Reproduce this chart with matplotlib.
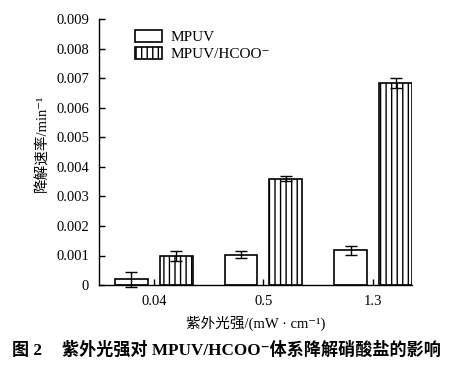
import numpy as np
import matplotlib
matplotlib.use("Agg")
import matplotlib.pyplot as plt

plt.rcParams['font.family'] = ['Liberation Serif', 'Noto Sans CJK SC', 'DejaVu Sans']
plt.rcParams['hatch.linewidth'] = 1.0
plt.rcParams['axes.unicode_minus'] = False

# data
intensity = ['0.04', '0.5', '1.3']
mpuv = [0.00019, 0.00103, 0.00117]
mpuv_err = [0.00025, 0.00012, 0.00015]
hcoo = [0.00098, 0.0036, 0.00684]
hcoo_err = [0.00016, 0.00008, 0.00018]
yticks = [0, 0.001, 0.002, 0.003, 0.004, 0.005, 0.006, 0.007, 0.008, 0.009]
ytick_labels = ['0', '0.001', '0.002', '0.003', '0.004', '0.005', '0.006', '0.007', '0.008', '0.009']

fig = plt.figure(figsize=(4.54, 3.65), dpi=100)
ax = fig.add_axes([0.218, 0.219, 0.6895, 0.729])

x = np.arange(len(intensity))
w = 0.3
off = 0.205
ekw = dict(ecolor='black', elinewidth=1.0, capsize=4, capthick=1.0)
b1 = ax.bar(x - off, mpuv, w, yerr=mpuv_err, color='white', edgecolor='black',
            linewidth=1.2, label='MPUV', error_kw=ekw)
b2 = ax.bar(x + off, hcoo, w, yerr=hcoo_err, color='white', edgecolor='black',
            linewidth=1.2, hatch='|||', label='MPUV/HCOO⁻', error_kw=ekw)
for bc in (b1, b2):
    for art in bc.errorbar.lines:
        for a in (art if isinstance(art, tuple) else [art]):
            if a is not None:
                a.set_clip_on(False)

ax.set_xlim(-0.5, 2.355)
ax.set_ylim(0, 0.009)
ax.set_xticks(x)
ax.set_xticklabels(intensity)
ax.set_yticks(yticks)
ax.set_yticklabels(ytick_labels)
ax.tick_params(direction='in', length=4, width=1, labelsize=10.5, pad=7)
for s in ['top', 'right']:
    ax.spines[s].set_visible(False)
for s in ['left', 'bottom']:
    ax.spines[s].set_linewidth(1.0)

ax.set_ylabel('降解速率/min⁻¹', fontsize=10.5)
ax.yaxis.set_label_coords(-0.157, 0.532)
ax.set_xlabel('紫外光强/(mW · cm⁻¹)', fontsize=10.5, labelpad=6)

leg = ax.legend(loc='upper left', bbox_to_anchor=(0.115, 0.96), frameon=False,
                fontsize=11, handlelength=1.8, handleheight=0.85,
                borderpad=0, borderaxespad=0, labelspacing=0.2, handletextpad=0.5)

fig.text(0.026, 0.027, '图 2', fontsize=12.3, fontweight='bold')
fig.text(0.137, 0.027, '紫外光强对 MPUV/HCOO⁻体系降解硝酸盐的影响', fontsize=12.3, fontweight='bold')

fig.savefig('out.png', dpi=100)
